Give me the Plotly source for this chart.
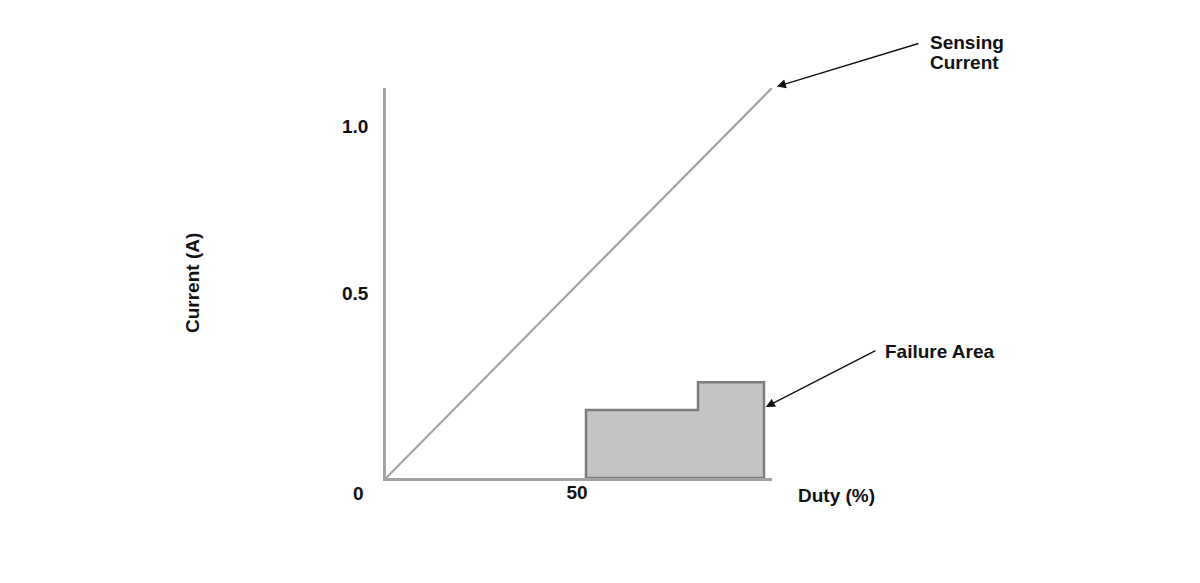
import plotly.graph_objects as go

# ---- data ----
duty_sensing = [0, 96.5]
current_sensing = [0, 1.168]

failure_duty = [50, 50, 78, 78, 94.5, 94.5, 50]
failure_current = [0, 0.204, 0.204, 0.287, 0.287, 0, 0]

x_tick_vals = [50]
x_tick_text = ["50"]
y_tick_vals = [0.5, 1.0]
y_tick_text = ["0.5", "1.0"]

FONT = "Liberation Sans, Arial, sans-serif"
fs = 19
OFF = 8  # default page body margin

fig = go.Figure()

fig.add_trace(go.Scatter(
    x=failure_duty, y=failure_current, mode="lines", fill="toself",
    fillcolor="#c2c3c2", line=dict(color="#7d7d7d", width=2.5),
    hoverinfo="skip", showlegend=False))

fig.add_trace(go.Scatter(
    x=duty_sensing, y=current_sensing, mode="lines",
    line=dict(color="#a3a3a3", width=2.2),
    hoverinfo="skip", showlegend=False))

PL, PR, PT, PB = 386, 772, 88, 478  # target plot box in window pixels


def pa(text, px, py, **kw):
    d = dict(x=(px - PL) / (PR - PL), y=(PB - py) / (PB - PT), xref="paper", yref="paper",
             text=text, showarrow=False,
             font=dict(family=FONT, size=kw.pop("size", fs), color="#111"),
             xanchor=kw.pop("xanchor", "left"), yanchor="middle")
    d.update(kw)
    return d


ann = []
# Sensing current arrow
ann.append(dict(x=duty_sensing[-1], y=current_sensing[-1], xref="x", yref="y",
                text="", showarrow=True, arrowhead=2, arrowsize=1.3, arrowwidth=1.4,
                arrowcolor="#111", ax=148, ay=-45, standoff=5))
ann.append(pa("<b>Sensing</b>", 928, 43))
ann.append(pa("<b>Current</b>", 928, 62))
# Failure area arrow
ann.append(dict(x=failure_duty[4], y=0.21, xref="x", yref="y", text="", showarrow=True,
                arrowhead=2, arrowsize=1.3, arrowwidth=1.4, arrowcolor="#111",
                ax=113, ay=-58, standoff=2))
ann.append(pa("<b>Failure Area</b>", 883, 351))
ann.append(pa("<b>Duty (%)</b>", 836, 495, xanchor="center"))
ann.append(pa("<b>Current (A)</b>", 192, 283, xanchor="center", textangle=-90))
ann.append(dict(x=0, y=0, xref="x", yref="y", text="<b>0</b>", showarrow=False,
                font=dict(family=FONT, size=fs, color="#111"),
                xshift=-28, yshift=-15))

tickfont = dict(family=FONT, size=fs, color="#111", weight="bold")

fig.update_layout(
    width=1200, height=583,
    margin=dict(l=PL - OFF, r=1200 - PR + OFF, t=PT - OFF, b=583 - PB + OFF),
    paper_bgcolor="white", plot_bgcolor="white",
    showlegend=False,
    xaxis=dict(range=[0, duty_sensing[-1]], showgrid=False, zeroline=False, showline=True,
               linecolor="#a3a3a3", linewidth=2.5, tickvals=x_tick_vals,
               ticktext=x_tick_text, ticks="", ticklabelshift=-9, ticklabelstandoff=-5,
               tickfont=tickfont),
    yaxis=dict(range=[0, current_sensing[-1]], showgrid=False, zeroline=False, showline=True,
               linecolor="#a3a3a3", linewidth=2.5, tickvals=y_tick_vals,
               ticktext=y_tick_text, ticks="", ticklabelshift=-18, ticklabelstandoff=11,
               tickfont=tickfont),
    annotations=ann,
)

fig.write_html("out.html")
